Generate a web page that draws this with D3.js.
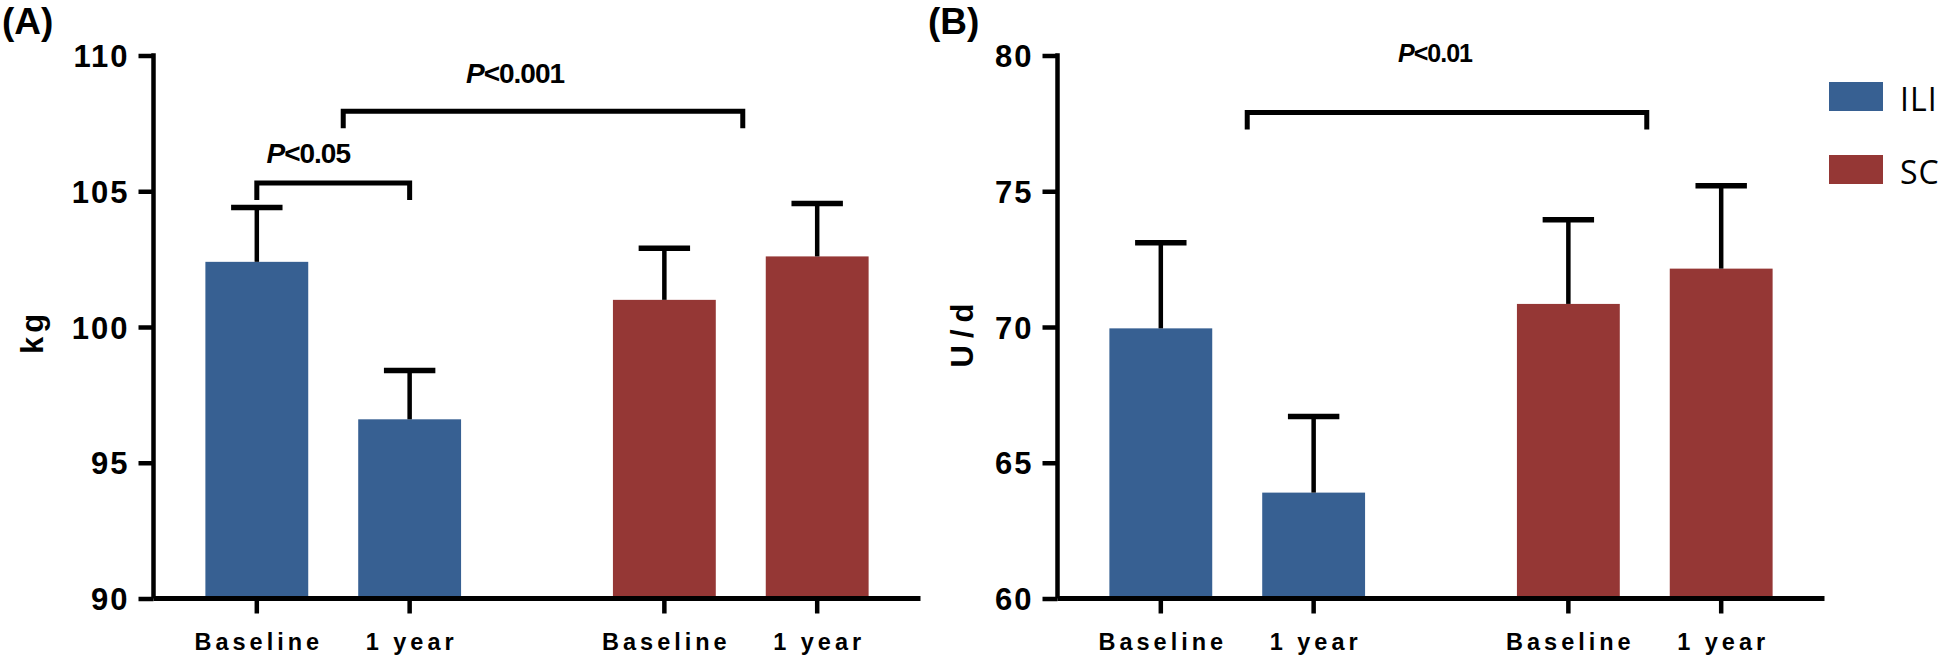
<!DOCTYPE html>
<html>
<head>
<meta charset="utf-8">
<script src="https://cdn.jsdelivr.net/npm/d3@7/dist/d3.min.js"></script>
<style>
  html, body { margin: 0; padding: 0; background: #ffffff; }
  svg { display: block; }
</style>
</head>
<body>
<script>
// ---------------- data ----------------
const groups = ["ILI", "SC"];
const timepoints = ["Baseline", "1 year"];

// Panel A: body weight (kg)
const weightILI = [102.4, 96.6];
const weightSC = [101.0, 102.6];
const weightILIErr = [2.0, 1.8];
const weightSCErr = [1.9, 1.95];
const weightTicks = [90, 95, 100, 105, 110];

// Panel B: insulin dose (U/d)
const insulinILI = [69.95, 63.9];
const insulinSC = [70.85, 72.15];
const insulinILIErr = [3.15, 2.8];
const insulinSCErr = [3.1, 3.05];
const insulinTicks = [60, 65, 70, 75, 80];

const legendLabels = ["ILI", "SC"];

// ---------------- style ----------------
const W = 1945, H = 658;
const colors = { ILI: "#376092", SC: "#953735" };
const sans = "'Liberation Sans',Arial,sans-serif";
const SW = 4.5;

const svg = d3.select("body").append("svg")
  .attr("width", W).attr("height", H)
  .style("background", "#fff");

function drawPanel(o) {
  const y = d3.scaleLinear().domain(o.domain).range([598.5, 55.5]);
  const axisLen = 767;
  const x0 = d3.scaleBand().domain(groups)
    .range([o.axisX, o.axisX + axisLen])
    .paddingInner(0.25).paddingOuter(0.066);
  const x1 = d3.scaleBand().domain(timepoints)
    .range([0, x0.bandwidth()])
    .paddingInner(0.327).paddingOuter(0.1635);

  const g = svg.append("g");
  const rows = [];
  groups.forEach((grp, gi) => timepoints.forEach((tp, ti) => {
    rows.push({ grp, tp, mean: o.means[gi][ti], err: o.errs[gi][ti] });
  }));
  const cx = d => x0(d.grp) + x1(d.tp) + x1.bandwidth() / 2;

  // bars
  g.selectAll("rect.bar").data(rows).join("rect")
    .attr("class", "bar")
    .attr("x", d => x0(d.grp) + x1(d.tp))
    .attr("y", d => y(d.mean))
    .attr("width", x1.bandwidth())
    .attr("height", d => y(o.domain[0]) - y(d.mean))
    .attr("fill", d => colors[d.grp]);

  // error bars
  g.selectAll("line.err").data(rows).join("line")
    .attr("class", "err")
    .attr("x1", cx).attr("x2", cx)
    .attr("y1", d => y(d.mean)).attr("y2", d => y(d.mean + d.err))
    .attr("stroke", "#000").attr("stroke-width", SW);
  g.selectAll("line.cap").data(rows).join("line")
    .attr("class", "cap")
    .attr("x1", d => cx(d) - x1.bandwidth() / 4)
    .attr("x2", d => cx(d) + x1.bandwidth() / 4)
    .attr("y1", d => y(d.mean + d.err)).attr("y2", d => y(d.mean + d.err))
    .attr("stroke", "#000").attr("stroke-width", SW + 1);

  // y axis
  const ax = g.append("g").attr("transform", `translate(${o.axisX},0)`)
    .call(d3.axisLeft(y).tickValues(o.ticks).tickSize(15).tickSizeOuter(0).tickPadding(9));
  ax.select(".domain").remove();
  ax.selectAll(".tick line").attr("stroke", "#000").attr("stroke-width", SW);
  ax.selectAll(".tick text")
    .attr("fill", "#000")
    .attr("dy", "0.36em")
    .style("font-family", sans).style("font-weight", "bold")
    .style("font-size", "31px").style("letter-spacing", "2px");
  g.append("line")
    .attr("x1", o.axisX).attr("x2", o.axisX)
    .attr("y1", y(o.domain[1]) - SW / 2).attr("y2", y(o.domain[0]))
    .attr("stroke", "#000").attr("stroke-width", SW);

  // x axis
  g.append("line")
    .attr("x1", o.axisX).attr("x2", o.axisX + axisLen)
    .attr("y1", y(o.domain[0])).attr("y2", y(o.domain[0]))
    .attr("stroke", "#000").attr("stroke-width", SW + 0.5);
  g.selectAll("line.xt").data(rows).join("line")
    .attr("class", "xt")
    .attr("x1", cx).attr("x2", cx)
    .attr("y1", y(o.domain[0])).attr("y2", y(o.domain[0]) + 15)
    .attr("stroke", "#000").attr("stroke-width", SW);
  g.selectAll("text.xl").data(rows).join("text")
    .attr("class", "xl")
    .attr("x", d => cx(d) + 2).attr("y", 650)
    .attr("text-anchor", "middle")
    .style("font-family", sans).style("font-weight", "bold")
    .style("font-size", "23.5px").style("letter-spacing", "4px")
    .text(d => d.tp);

  // axis title
  g.append("text")
    .attr("transform", `translate(${o.titleX},332) rotate(-90)`)
    .attr("text-anchor", "middle")
    .style("font-family", sans).style("font-weight", "bold")
    .style("font-size", "31px").style("letter-spacing", o.titleSpacing)
    .text(o.title);

  // panel label
  g.append("text")
    .attr("x", o.panelX).attr("y", 34)
    .style("font-family", sans).style("font-weight", "bold")
    .style("font-size", "37px")
    .text(o.panelLabel);

  // significance brackets
  o.sig.forEach(s => {
    const xa = s.from(x0, x1), xb = s.to(x0, x1);
    const yy = y(s.level);
    g.append("path")
      .attr("d", `M${xa},${yy + 17}V${yy}H${xb}V${yy + 17}`)
      .attr("fill", "none").attr("stroke", "#000").attr("stroke-width", SW + 0.5);
    const t = g.append("text")
      .attr("x", (xa + xb) / 2 + s.dx).attr("y", y(s.textLevel))
      .attr("text-anchor", "middle")
      .style("font-family", sans).style("font-weight", "bold")
      .style("font-size", s.size).style("letter-spacing", "-1px");
    t.append("tspan").style("font-style", "italic").text("P");
    t.append("tspan").text(s.label);
  });
}

const bc = (x0, x1, grp, tp) => x0(grp) + x1(tp) + x1.bandwidth() / 2;
const gc = (x0, grp) => x0(grp) + x0.bandwidth() / 2;

drawPanel({
  axisX: 153.5,
  domain: [90, 110],
  ticks: weightTicks,
  means: [weightILI, weightSC],
  errs: [weightILIErr, weightSCErr],
  title: "kg", titleX: 43, titleSpacing: "4px",
  panelLabel: "(A)", panelX: 2,
  sig: [
    { from: (a, b) => bc(a, b, "ILI", "Baseline"), to: (a, b) => bc(a, b, "ILI", "1 year"),
      level: 105.3, textLevel: 106.05, label: "<0.05", dx: -25, size: "28px" },
    { from: (a, b) => gc(a, "ILI") + 10, to: (a, b) => gc(a, "SC") + 2,
      level: 107.95, textLevel: 109.0, label: "<0.001", dx: -28, size: "28px" }
  ]
});

drawPanel({
  axisX: 1057.5,
  domain: [60, 80],
  ticks: insulinTicks,
  means: [insulinILI, insulinSC],
  errs: [insulinILIErr, insulinSCErr],
  title: "U/d", titleX: 973, titleSpacing: "7px",
  panelLabel: "(B)", panelX: 928,
  sig: [
    { from: (a, b) => gc(a, "ILI") + 10, to: (a, b) => gc(a, "SC") + 2,
      level: 77.9, textLevel: 79.75, label: "<0.01", dx: -12, size: "25px" }
  ]
});

// legend
const lg = svg.append("g");
legendLabels.forEach((lab, i) => {
  lg.append("rect")
    .attr("x", 1829).attr("y", 82 + i * 73)
    .attr("width", 54).attr("height", 29)
    .attr("fill", colors[groups[i]]);
  lg.append("text")
    .attr("x", 1900).attr("y", 111 + i * 73)
    .style("font-family", "'Open Sans','Liberation Sans',sans-serif")
    .style("font-size", "32px").style("letter-spacing", "1px")
    .text(lab);
});
</script>
</body>
</html>
